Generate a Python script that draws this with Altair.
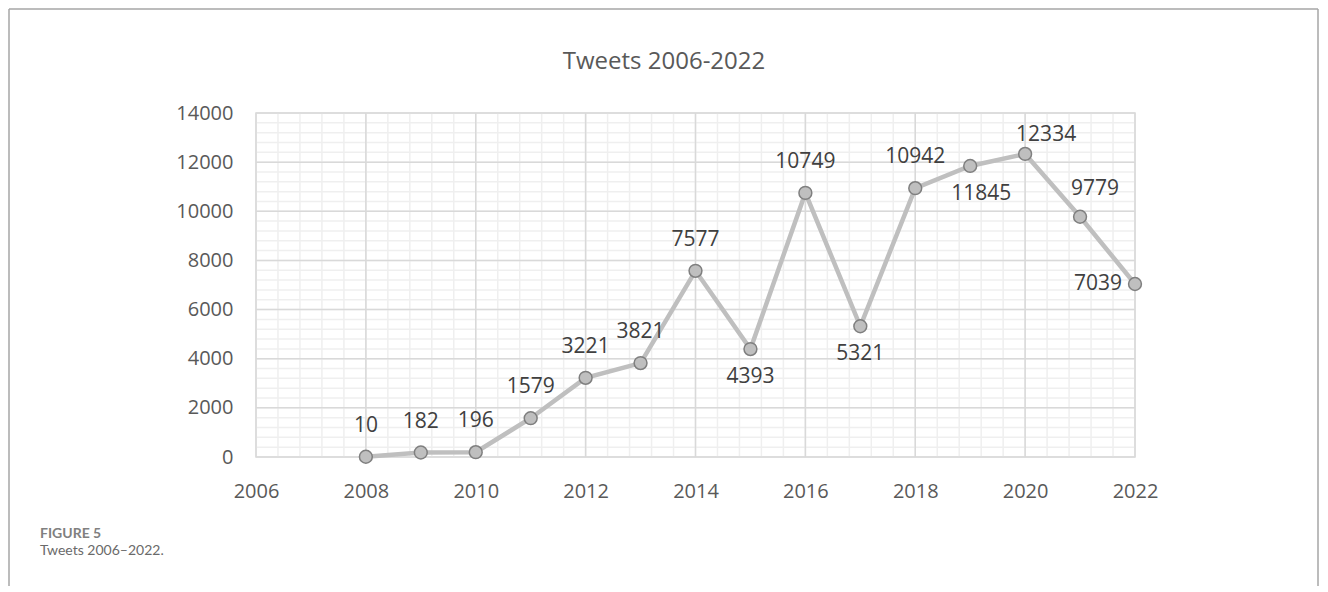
import altair as alt
import pandas as pd

# ---- data ----
years = [2008, 2009, 2010, 2011, 2012, 2013, 2014, 2015, 2016, 2017, 2018, 2019, 2020, 2021, 2022]
tweets = [10, 182, 196, 1579, 3221, 3821, 7577, 4393, 10749, 5321, 10942, 11845, 12334, 9779, 7039]
x_ticks = [2006, 2008, 2010, 2012, 2014, 2016, 2018, 2020, 2022]
y_ticks = [0, 2000, 4000, 6000, 8000, 10000, 12000, 14000]
x_minor = [2006 + 0.4 * k for k in range(41)]
y_minor = [400 * k for k in range(36)]
below_years = [2015, 2017]
below_right_years = [2019]
left_years = [2022]
right_high_years = [2020]
right_years = [2021]
title_text = "Tweets 2006-2022"
caption_label = "FIGURE 5"
caption_text = "Tweets 2006\u20132022."


def pos_of(y):
    if y in left_years:
        return "left"
    if y in below_years:
        return "below"
    if y in below_right_years:
        return "below_right"
    if y in right_high_years:
        return "right_high"
    if y in right_years:
        return "right"
    return "above"


df = pd.DataFrame({"year": years, "tweets": tweets})
df["pos"] = [pos_of(y) for y in years]

W, H = 879, 344
FONT = "Open Sans"
GRAY = "#595959"

xs = alt.Scale(domain=[2006, 2022], nice=False, zero=False)
ys = alt.Scale(domain=[0, 14000], nice=False)

xaxis = alt.Axis(values=x_ticks, format="d", labelFontSize=20, labelColor=GRAY, labelFont=FONT,
                 ticks=False, domain=False, grid=False, labelPadding=24, title=None, labelFlush=False)
yaxis = alt.Axis(values=y_ticks, format="d", labelFontSize=20, labelColor=GRAY, labelFont=FONT,
                 ticks=False, domain=False, grid=False, labelPadding=23, title=None, labelFlush=False)

minor_v = alt.Chart(pd.DataFrame({"x": x_minor})).mark_rule(color="#efefef", strokeWidth=1.5).encode(
    x=alt.X("x:Q", scale=xs, axis=xaxis))
minor_h = alt.Chart(pd.DataFrame({"y": y_minor})).mark_rule(color="#efefef", strokeWidth=1.5).encode(
    y=alt.Y("y:Q", scale=ys, axis=yaxis))
major_v = alt.Chart(pd.DataFrame({"x": x_ticks})).mark_rule(color="#d9d9d9", strokeWidth=1.5).encode(
    x=alt.X("x:Q", scale=xs, axis=xaxis))
major_h = alt.Chart(pd.DataFrame({"y": y_ticks})).mark_rule(color="#d9d9d9", strokeWidth=1.5).encode(
    y=alt.Y("y:Q", scale=ys, axis=yaxis))

base = alt.Chart(df).encode(
    x=alt.X("year:Q", scale=xs, axis=xaxis),
    y=alt.Y("tweets:Q", scale=ys, axis=yaxis),
)
line = base.mark_line(color="#bfbfbf", strokeWidth=4.5)
pts = base.mark_point(filled=True, fill="#bfbfbf", stroke="#7f7f7f", strokeWidth=1.5, size=165, opacity=1, shape="circle")

lab_kw = dict(font=FONT, fontSize=21, color="#404040", baseline="middle")


def labels(pos, **kw):
    opts = dict(lab_kw)
    opts.update(kw)
    return base.transform_filter(alt.datum.pos == pos).mark_text(**opts).encode(text="tweets:Q")


lab_above = labels("above", dy=-31)
lab_below = labels("below", dy=28)
lab_below_r = labels("below_right", dy=28, dx=11)
lab_right_hi = labels("right_high", dy=-19, dx=21)
lab_right = labels("right", dy=-28, dx=15)
lab_left = labels("left", dx=-13, align="right")

title = alt.Chart(pd.DataFrame({"t": [title_text]})).mark_text(
    font=FONT, fontSize=24, color=GRAY, baseline="middle", align="center").encode(
    text="t:N", x=alt.value(408), y=alt.value(-51))
cap1 = alt.Chart(pd.DataFrame({"t": [caption_label]})).mark_text(
    font="Lato", fontSize=14, fontWeight="bold", color="#808080", align="left", baseline="middle").encode(
    text="t:N", x=alt.value(-216), y=alt.value(421))
cap2 = alt.Chart(pd.DataFrame({"t": [caption_text]})).mark_text(
    font="Lato", fontSize=14, color="#6a6a6a", align="left", baseline="middle").encode(
    text="t:N", x=alt.value(-216), y=alt.value(438))

frame_df = pd.DataFrame({"a": [0]})
frame_left = alt.Chart(frame_df).mark_rule(color="#a6a6a6", strokeWidth=1.5).encode(
    x=alt.value(-247), y=alt.value(-104), y2=alt.value(600))
frame_top = alt.Chart(frame_df).mark_rule(color="#a6a6a6", strokeWidth=1.5).encode(
    x=alt.value(-247), x2=alt.value(1062), y=alt.value(-104))
frame_right = alt.Chart(frame_df).mark_rule(color="#a6a6a6", strokeWidth=1.5).encode(
    x=alt.value(1062), y=alt.value(-104), y2=alt.value(600))

chart = alt.layer(
    minor_v, minor_h, major_v, major_h, line, pts,
    lab_above, lab_below, lab_below_r, lab_right_hi, lab_right, lab_left,
    title, cap1, cap2, frame_left, frame_top, frame_right,
).properties(
    width=W, height=H,
    autosize=alt.AutoSizeParams(type="none"),
    padding={"left": 248, "top": 105, "right": 185, "bottom": 129},
    background="white",
).configure_view(stroke="#d9d9d9", strokeWidth=1.5)

chart.save("out.html", embed_options={"renderer": "svg", "actions": False})
